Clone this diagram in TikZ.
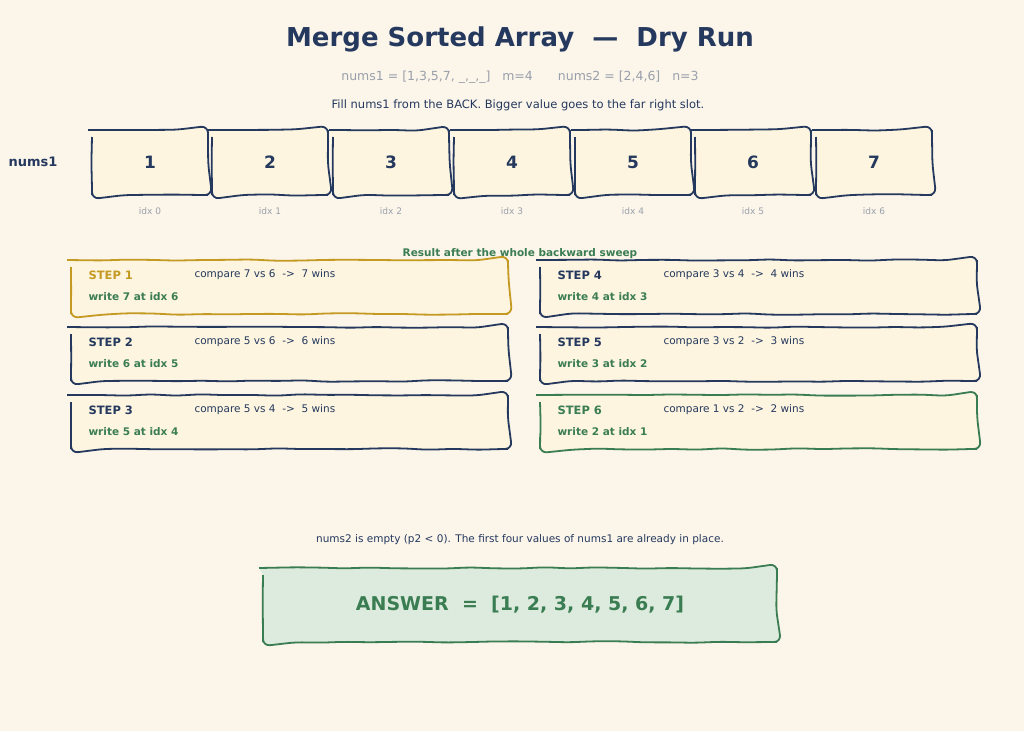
\documentclass[tikz,border=0pt]{standalone}
\usepackage{fontspec}
\setmainfont{DejaVu Sans}
\usetikzlibrary{decorations.pathmorphing}
\definecolor{bg}{HTML}{FBF5EA}
\definecolor{navy}{HTML}{25395E}
\definecolor{cellf}{HTML}{FDF5E0}
\definecolor{gold}{HTML}{C49A22}
\definecolor{grn}{HTML}{3B7D52}
\definecolor{grnf}{HTML}{DCEBDD}
\definecolor{gry}{HTML}{9AA0AB}
\begin{document}
\begin{tikzpicture}[x=1pt,y=-1pt,
  sk/.style={draw=navy,line width=1.8pt,fill=cellf,rounded corners=7pt,
    decorate,decoration={random steps,segment length=25pt,amplitude=0.8pt}},
  cell/.style={font=\bfseries\fontsize{17}{20}\selectfont,text=navy},
  idx/.style={font=\fontsize{9}{10}\selectfont,text=gry},
  stp/.style={anchor=west,font=\bfseries\fontsize{11.5}{13}\selectfont,text=navy},
  cmp/.style={anchor=west,font=\fontsize{10.5}{12}\selectfont,text=navy},
  wr/.style={anchor=west,font=\bfseries\fontsize{10.5}{12}\selectfont,text=grn}]
\useasboundingbox[fill=bg] (0,0) rectangle (1024,731);
\node[font=\bfseries\fontsize{26}{30}\selectfont,text=navy] (title) at (520,39) {Merge Sorted Array \ —\ \ Dry Run};
\node[font=\fontsize{12.5}{14}\selectfont,text=gry] (sub) at (520,77) {nums1 = [1,3,5,7, \_,\_,\_]\ \ \ m=4\qquad nums2 = [2,4,6]\ \ \ n=3};
\node[font=\fontsize{11.5}{13}\selectfont,text=navy] (fill) at (518,105) {Fill nums1 from the BACK. Bigger value goes to the far right slot.};
\node[font=\bfseries\fontsize{13}{15}\selectfont,text=navy] (lbl) at (33,162) {nums1};
\foreach \i/\x in {0/150,1/270,2/391,3/512,4/633,5/753,6/874}{
  \path[sk] (\x-58,130) rectangle (\x+58,195);
  \pgfmathtruncatemacro{\v}{\i+1}
  \node[cell] (c\i) at (\x,162) {\v};
  \node[idx] (i\i) at (\x,211) {idx \i};
}
% steps
\foreach \n/\x/\y/\a/\b/\w/\c in {
  1/71/260/7 vs 6/7/7 at idx 6/gold,
  2/71/327/5 vs 6/6/6 at idx 5/navy,
  3/71/395/5 vs 4/5/5 at idx 4/navy,
  4/540/260/3 vs 4/4/4 at idx 3/navy,
  5/540/327/3 vs 2/3/3 at idx 2/navy,
  6/540/395/1 vs 2/2/2 at idx 1/grn}{
  \path[sk,draw=\c] (\x,\y) rectangle (\x+437,\y+54);
  \node[stp,text=\c] (s\n) at (\x+14,\y+15) {STEP \n};
  \node[cmp] (k\n) at (\x+120,\y+15) {compare \a\ \ ->\ \ \b\ wins};
  \node[wr] (w\n) at (\x+14,\y+37) {write \w};
}
\node[font=\bfseries\fontsize{10.5}{12}\selectfont,text=grn] (res) at (520,254) {Result after the whole backward sweep};
\node[font=\fontsize{10.5}{12}\selectfont,text=navy] (emp) at (520,540) {nums2 is empty (p2 < 0). The first four values of nums1 are already in place.};
\path[sk,draw=grn,fill=grnf] (263,568) rectangle (777,642);
\node[font=\bfseries\fontsize{19}{22}\selectfont,text=grn] (ans) at (520,605) {ANSWER\ \ =\ \ [1, 2, 3, 4, 5, 6, 7]};
\end{tikzpicture}
\end{document}
